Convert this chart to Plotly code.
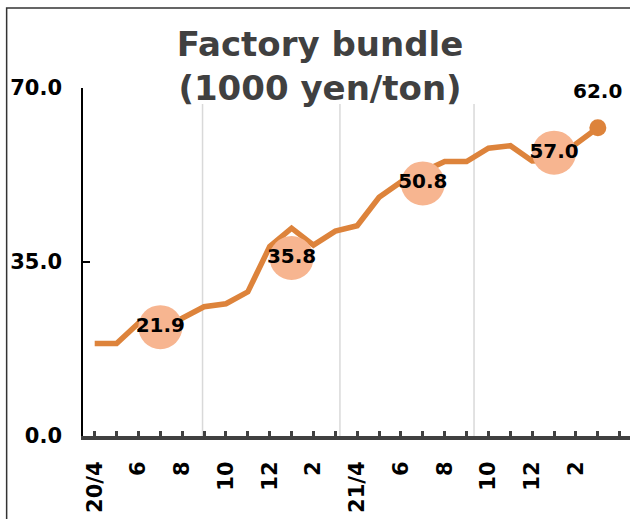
import plotly.graph_objects as go

# Monthly factory bundle price, April 2020 - March 2022 (1000 yen/ton)
MONTHS = [
    "20/4", "20/5", "20/6", "20/7", "20/8", "20/9", "20/10", "20/11", "20/12",
    "21/1", "21/2", "21/3", "21/4", "21/5", "21/6", "21/7", "21/8", "21/9",
    "21/10", "21/11", "21/12", "22/1", "22/2", "22/3",
]
PRICE = [
    18.6, 18.6, 22.7, 21.8, 23.7, 26.0, 26.6, 29.0, 38.1,
    41.8, 38.4, 41.2, 42.3, 48.0, 51.1, 53.0, 55.2, 55.2,
    57.9, 58.4, 55.3, 55.5, 58.6, 62.0,
]

# Half-year averages, shown as bubbles
HALF_MONTHS = ["20/7", "21/1", "21/7", "22/1"]
HALF_AVG = [21.9, 35.8, 50.8, 57.0]

# Axis tick labels (one slot per month, label every second month)
TICK_TEXT = [
    "20/4", "", "6", "", "8", "", "10", "", "12", "", "2", "",
    "21/4", "", "6", "", "8", "", "10", "", "12", "", "2", "", "",
]
Y_TICKS = [0, 35, 70]
Y_TICK_TEXT = ["0.0", "35.0", "70.0"]

# Period separators on the month axis
SEPARATORS = [4.93, 11.21, 17.34]

LINE_COLOR = "#DD833B"
BUBBLE_COLOR = "#F7B590"
FONT = "DejaVu Sans"

x_idx = list(range(len(MONTHS)))
half_x = [MONTHS.index(m) for m in HALF_MONTHS]

fig = go.Figure()

fig.add_trace(go.Scatter(
    x=x_idx, y=PRICE, mode="lines",
    line=dict(color=LINE_COLOR, width=5.5),
    hoverinfo="skip", showlegend=False,
))
fig.add_trace(go.Scatter(
    x=[x_idx[-1]], y=[PRICE[-1]], mode="markers",
    marker=dict(color=LINE_COLOR, size=17),
    hoverinfo="skip", showlegend=False,
))
fig.add_trace(go.Scatter(
    x=half_x, y=HALF_AVG, mode="markers+text",
    marker=dict(color=BUBBLE_COLOR, size=44, line=dict(width=0)),
    text=[f"{v:.1f}" for v in HALF_AVG],
    textposition="middle center",
    textfont=dict(family=FONT, size=20, color="black", weight="bold"),
    hoverinfo="skip", showlegend=False,
))

# Latest value label above the end point
fig.add_annotation(
    x=x_idx[-1], y=PRICE[-1], text=f"{PRICE[-1]:.1f}",
    showarrow=False, yshift=37,
    font=dict(family=FONT, size=20, color="black", weight="bold"),
)

for sx in SEPARATORS:
    fig.add_shape(
        type="line", xref="x", yref="y", x0=sx, x1=sx, y0=0, y1=66.8,
        line=dict(color="#D9D9D9", width=1.5), layer="below",
    )

# Outer chart frame
fig.add_shape(
    type="rect", xref="paper", yref="paper",
    x0=-0.1396, x1=1.3, y0=-0.6, y1=1.2299,
    line=dict(color="#333333", width=1.5), fillcolor="rgba(0,0,0,0)",
)

fig.update_layout(
    width=630, height=519,
    margin=dict(l=83, r=0, t=88, b=83),
    paper_bgcolor="white", plot_bgcolor="white",
    title=dict(
        text="Factory bundle<br>(1000 yen/ton)",
        font=dict(family=FONT, size=34, color="#404040", weight="bold"),
        x=0.508, xanchor="center", xref="container",
        y=0.893, yanchor="top", yref="container",
    ),
    xaxis=dict(
        range=[-0.535, 24.47],
        tickmode="array", tickvals=list(range(len(TICK_TEXT))), ticktext=TICK_TEXT,
        tickangle=-90,
        ticks="inside", ticklen=5, tickwidth=3, tickcolor="#404040",
        showline=True, linecolor="#404040", linewidth=4,
        showgrid=False, zeroline=False,
        tickfont=dict(family=FONT, size=21, color="black", weight="bold"),
        ticklabelstandoff=13,
    ),
    yaxis=dict(
        range=[0, 70],
        tickmode="array", tickvals=Y_TICKS, ticktext=Y_TICK_TEXT,
        ticks="inside", ticklen=7, tickwidth=1.5, tickcolor="black",
        showline=True, linecolor="black", linewidth=1.5,
        showgrid=False, zeroline=False,
        tickfont=dict(family=FONT, size=21, color="black", weight="bold"),
        ticklabelstandoff=15,
    ),
)

fig.write_html("out.html")
